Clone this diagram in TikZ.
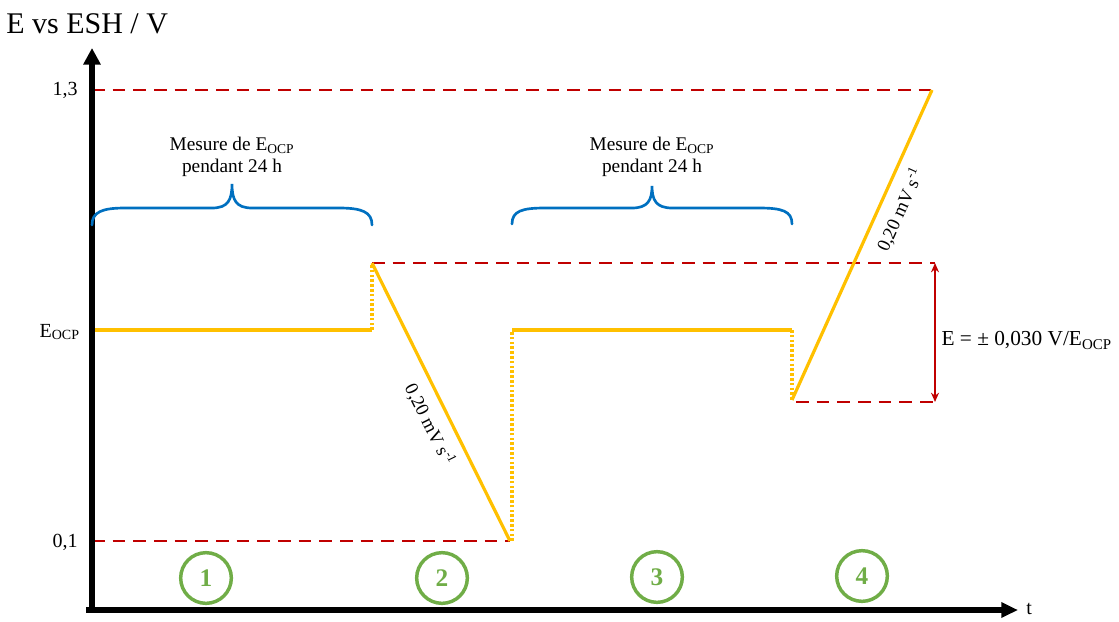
\documentclass[tikz,border=0pt]{standalone}
\usepackage{fontspec}
\setmainfont{Liberation Serif}
\usetikzlibrary{arrows.meta}
\definecolor{cred}{HTML}{C00000}
\definecolor{corange}{HTML}{FFC000}
\definecolor{cblue}{HTML}{0070C0}
\definecolor{cgreen}{HTML}{70AD47}
\newcommand\fsz[1]{\fontsize{#1}{1.15\dimexpr#1pt\relax}\selectfont}
\tikzset{
  axisline/.style={line width=3.8pt},
  refline/.style={cred, line width=2.1pt, dash pattern=on 9.5pt off 6pt},
  potline/.style={corange, line width=2.4pt},
  jumpline/.style={corange, line width=2.4pt, dash pattern=on 2pt off 1.6pt},
  bracepath/.style={cblue, line width=2pt, line cap=round},
  stepnum/.style={circle, draw=cgreen, line width=2.6pt, minimum size=38pt, inner sep=0pt, text=cgreen, font=\fsz{19}\bfseries},
  ticklab/.style={anchor=east, inner sep=0pt, font=\fsz{15}},
  bracelab/.style={align=center, font=\fsz{14.5}, inner sep=0pt},
  slopelab/.style={font=\fsz{14}, sloped, below=5pt, inner sep=2pt, text=black},
}
\begin{document}
\begin{tikzpicture}[x=0.75pt, y=-0.75pt]
\useasboundingbox (0,0) rectangle (1119,621);
% coordinates
\coordinate (O) at (92,612);
\coordinate (Ytop) at (92,48);
\coordinate (Xo) at (86,610);
\coordinate (Xend) at (1018,610);
\coordinate (a0) at (92,330);
\coordinate (a1) at (372,330);
\coordinate (a2) at (372,263);
\coordinate (a3) at (510,541);
\coordinate (a4) at (512,541);
\coordinate (a5) at (512,330);
\coordinate (a6) at (792,330);
\coordinate (a7) at (792,400);
\coordinate (a7r) at (796,402);
\coordinate (a8) at (932,90);
\coordinate (h13) at (92,90);
\coordinate (h01) at (92,541);
\coordinate (hup) at (935,263);
\coordinate (hdn) at (935,402);
% reference dashed lines
\draw[refline] (h13) -- (a8);
\draw[refline] (a2) -- (hup);
\draw[refline] (a7r) -- (hdn);
\draw[refline] (h01) -- (a3);
% potential path
\draw[potline] (a0) -- (a1);
\draw[jumpline] (a1) -- (a2);
\draw[potline] (a2) -- node[slopelab, pos=0.55] {0,20 mV s\textsuperscript{-1}} (a3);
\draw[jumpline] (a4) -- (a5);
\draw[potline] (a5) -- (a6);
\draw[jumpline] (a6) -- (a7);
\draw[potline] (a7) -- node[slopelab, pos=0.64] {0,20 mV s\textsuperscript{-1}} (a8);
% amplitude arrow
\draw[cred, line width=1.8pt, {Stealth[length=7pt,width=6pt]}-{Stealth[length=7pt,width=6pt]}] (hup) -- (hdn)
  node[midway, right=4pt, inner sep=0pt, font=\fsz{16}, yshift=-6pt, text=black] (amp) {E = ± 0,030 V/E\textsubscript{OCP}};
% axes
\draw[axisline, -{Triangle[length=12.5pt,width=12.5pt]}] (O) -- (Ytop);
\draw[axisline, -{Triangle[length=12.5pt,width=11pt]}] (Xo) -- (Xend);
\node[anchor=west, inner sep=0pt, font=\fsz{22.5}] (ylab) at (6,24) {E vs ESH / V};
\node[anchor=west, inner sep=0pt, font=\fsz{15}] (xlab) at (1026,609) {t};
% tick labels
\node[ticklab] (t13) at (78,90) {1,3};
\node[ticklab] (tocp) at (80,332) {E\textsubscript{OCP}};
\node[ticklab] (t01) at (78,542) {0,1};
% braces
\draw[bracepath] (92,225) .. controls (92,212) and (102,208) .. (125,208) -- (212,208)
  .. controls (228,208) and (232,200) .. (232,184)
  .. controls (232,200) and (236,208) .. (252,208) -- (339,208)
  .. controls (362,208) and (372,212) .. (372,225);
\draw[bracepath] (512,224) .. controls (512,211) and (522,208) .. (545,208) -- (632,208)
  .. controls (648,208) and (652,200) .. (652,186)
  .. controls (652,200) and (656,208) .. (672,208) -- (759,208)
  .. controls (782,208) and (792,211) .. (792,224);
\node[bracelab] (m1) at (232,157) {Mesure de E\textsubscript{OCP}\\pendant 24 h};
\node[bracelab] (m2) at (652,157) {Mesure de E\textsubscript{OCP}\\pendant 24 h};
% step numbers
\node[stepnum] (s1) at (206,578) {1};
\node[stepnum] (s2) at (442,578) {2};
\node[stepnum] (s3) at (657,577) {3};
\node[stepnum] (s4) at (862,576) {4};
\end{tikzpicture}
\end{document}
